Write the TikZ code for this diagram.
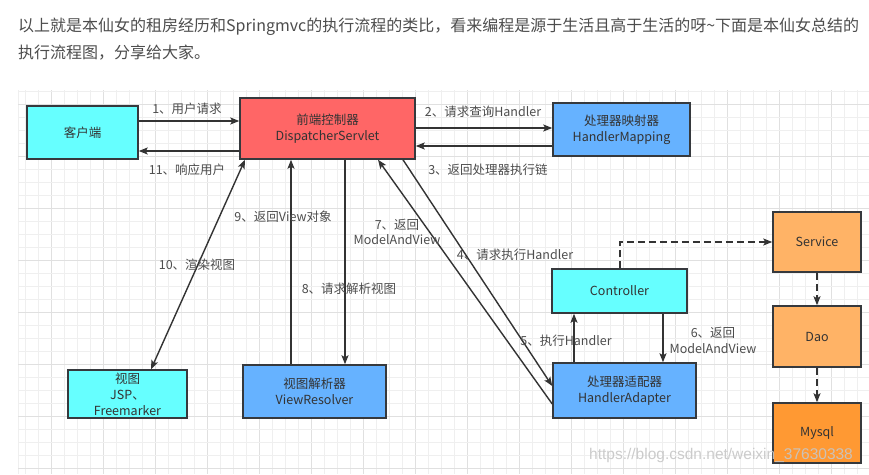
\documentclass[tikz,border=0pt]{standalone}
\usepackage{fontspec}
\setmainfont{Noto Sans CJK SC}
\newfontfamily\wmfont{Liberation Sans}
\usetikzlibrary{arrows.meta}
\definecolor{cyanbox}{HTML}{66FFFF}
\definecolor{redbox}{HTML}{FF6666}
\definecolor{bluebox}{HTML}{66B2FF}
\definecolor{orangebox}{HTML}{FFB366}
\definecolor{darkorange}{HTML}{FF9933}
\definecolor{edgecol}{HTML}{333333}
\definecolor{bordercol}{HTML}{36393D}
\definecolor{labelcol}{HTML}{4D4D4D}
\definecolor{paratext}{HTML}{4D4D4D}
\definecolor{gridminor}{HTML}{EFEFEF}
\definecolor{gridmajor}{HTML}{E0E0E0}
\begin{document}
\begin{tikzpicture}[x=1pt,y=-1pt,
  box/.style={draw=bordercol, line width=1.5pt, align=center, inner sep=0pt,
    font=\fontsize{12.5}{16}\selectfont, text=edgecol},
  arr/.style={draw=edgecol, line width=1.4pt, -{Stealth[length=9pt,width=7pt,inset=2pt]}},
  darr/.style={draw=edgecol, line width=1.4pt, {Stealth[length=9pt,width=7pt,inset=2pt]}-{Stealth[length=9pt,width=7pt,inset=2pt]}},
  dsh/.style={arr, dash pattern=on 7pt off 4pt},
  lbl/.style={font=\fontsize{12.5}{15.5}\selectfont, text=labelcol, align=center, inner sep=0pt},
  para/.style={font=\fontsize{16}{16}\selectfont, text=paratext, inner sep=0pt, anchor=west}
]
\useasboundingbox[fill=white] (0,0) rectangle (869,474);
% grid
\foreach \k in {0,...,65} {
  \pgfmathtruncatemacro{\m}{mod(\k,4)}
  \ifnum\m=2
    \draw[gridmajor, line width=0.9pt] (25+13*\k,90) -- (25+13*\k,474);
  \else
    \draw[gridminor, line width=0.9pt] (25+13*\k,90) -- (25+13*\k,474);
  \fi
}
\draw[gridminor, line width=0.9pt] (18,90) -- (18,474);
\foreach \k in {0,...,29} {
  \pgfmathtruncatemacro{\m}{mod(\k,4)}
  \ifnum\m=1
    \draw[gridmajor, line width=0.9pt] (18,91+13*\k) -- (869,91+13*\k);
  \else
    \draw[gridminor, line width=0.9pt] (18,91+13*\k) -- (869,91+13*\k);
  \fi
}
% paragraph
\node[para] (p1) at (18,27) {以上就是本仙女的租房经历和Springmvc的执行流程的类比，看来编程是源于生活且高于生活的呀\textasciitilde 下面是本仙女总结的};
\node[para] (p2) at (18,53) {执行流程图，分享给大家。};
% boxes
\node[box, fill=cyanbox, minimum width=111pt, minimum height=53pt] (client) at (82.5,132.5) {客户端};
\node[box, fill=redbox, minimum width=175pt, minimum height=61pt] (ds) at (327.5,128.5) {前端控制器\\DispatcherServlet};
\node[box, fill=bluebox, minimum width=137pt, minimum height=53pt] (hm) at (621.5,129.5) {处理器映射器\\HandlerMapping};
\node[box, fill=cyanbox, minimum width=135pt, minimum height=44pt] (ctrl) at (619.5,291) {Controller};
\node[box, fill=orangebox, minimum width=88pt, minimum height=60pt] (svc) at (817,242) {Service};
\node[box, fill=orangebox, minimum width=88pt, minimum height=61pt] (dao) at (817,336.5) {Dao};
\node[box, fill=darkorange, minimum width=88pt, minimum height=60pt] (mysql) at (817,433) {Mysql};
\node[box, fill=bluebox, minimum width=143pt, minimum height=55pt] (ha) at (624.5,390.5) {处理器适配器\\HandlerAdapter};
\node[box, fill=bluebox, minimum width=143pt, minimum height=53pt] (vr) at (314.5,391.5) {视图解析器\\ViewResolver};
\node[box, fill=cyanbox, minimum width=119pt, minimum height=48pt] (view) at (127.5,394) {视图\\JSP、\\Freemarker};
% connectors
\draw[arr] (client.east |- 0,121) -- (ds.west |- 0,121);
\draw[arr] (ds.west |- 0,151) -- (client.east |- 0,151);
\draw[arr] (ds.east |- 0,128) -- (hm.west |- 0,128);
\draw[arr] (hm.west |- 0,146) -- (ds.east |- 0,146);
\draw[arr] (ds.south -| 403,0) -- (ha.west |- 0,386);
\draw[arr] (ha.west |- 0,404) -- (ds.south -| 378,0);
\draw[arr] (ha.north -| 574,0) -- (ctrl.south -| 574,0);
\draw[arr] (ctrl.south -| 663,0) -- (ha.north -| 663,0);
\draw[dsh] (ctrl.north -| 620,0) |- (svc.west);
\draw[dsh] (svc.south) -- (dao.north);
\draw[dsh] (dao.south) -- (mysql.north);
\draw[arr] (ds.south -| 345,0) -- (vr.north -| 345,0);
\draw[arr] (vr.north -| 291,0) -- (ds.south -| 291,0);
\draw[darr] (ds.south -| 245,0) -- (view.north -| 151,0);
% labels
\node[lbl] (l1) at (187,109) {1、用户请求};
\node[lbl] (l11) at (187,170) {11、响应用户};
\node[lbl] (l2) at (483,112) {2、请求查询Handler};
\node[lbl] (l3) at (488,170) {3、返回处理器执行链};
\node[lbl] (l4) at (515,255) {4、请求执行Handler};
\node[lbl] (l5) at (566,341) {5、执行Handler};
\node[lbl] (l6) at (713,340.5) {6、返回\\ModelAndView};
\node[lbl] (l7) at (397,232) {7、返回\\ModelAndView};
\node[lbl] (l8) at (349,289) {8、请求解析视图};
\node[lbl] (l9) at (283,217) {9、返回View对象};
\node[lbl] (l10) at (197,265) {10、渲染视图};
% watermark
\node[font=\wmfont\fontsize{15.5}{15.5}\selectfont, text=gray!45, opacity=0.9, anchor=west, inner sep=0pt] (wm) at (589,455) {https://blog.csdn.net/weixin\_37630338};
\end{tikzpicture}
\end{document}
